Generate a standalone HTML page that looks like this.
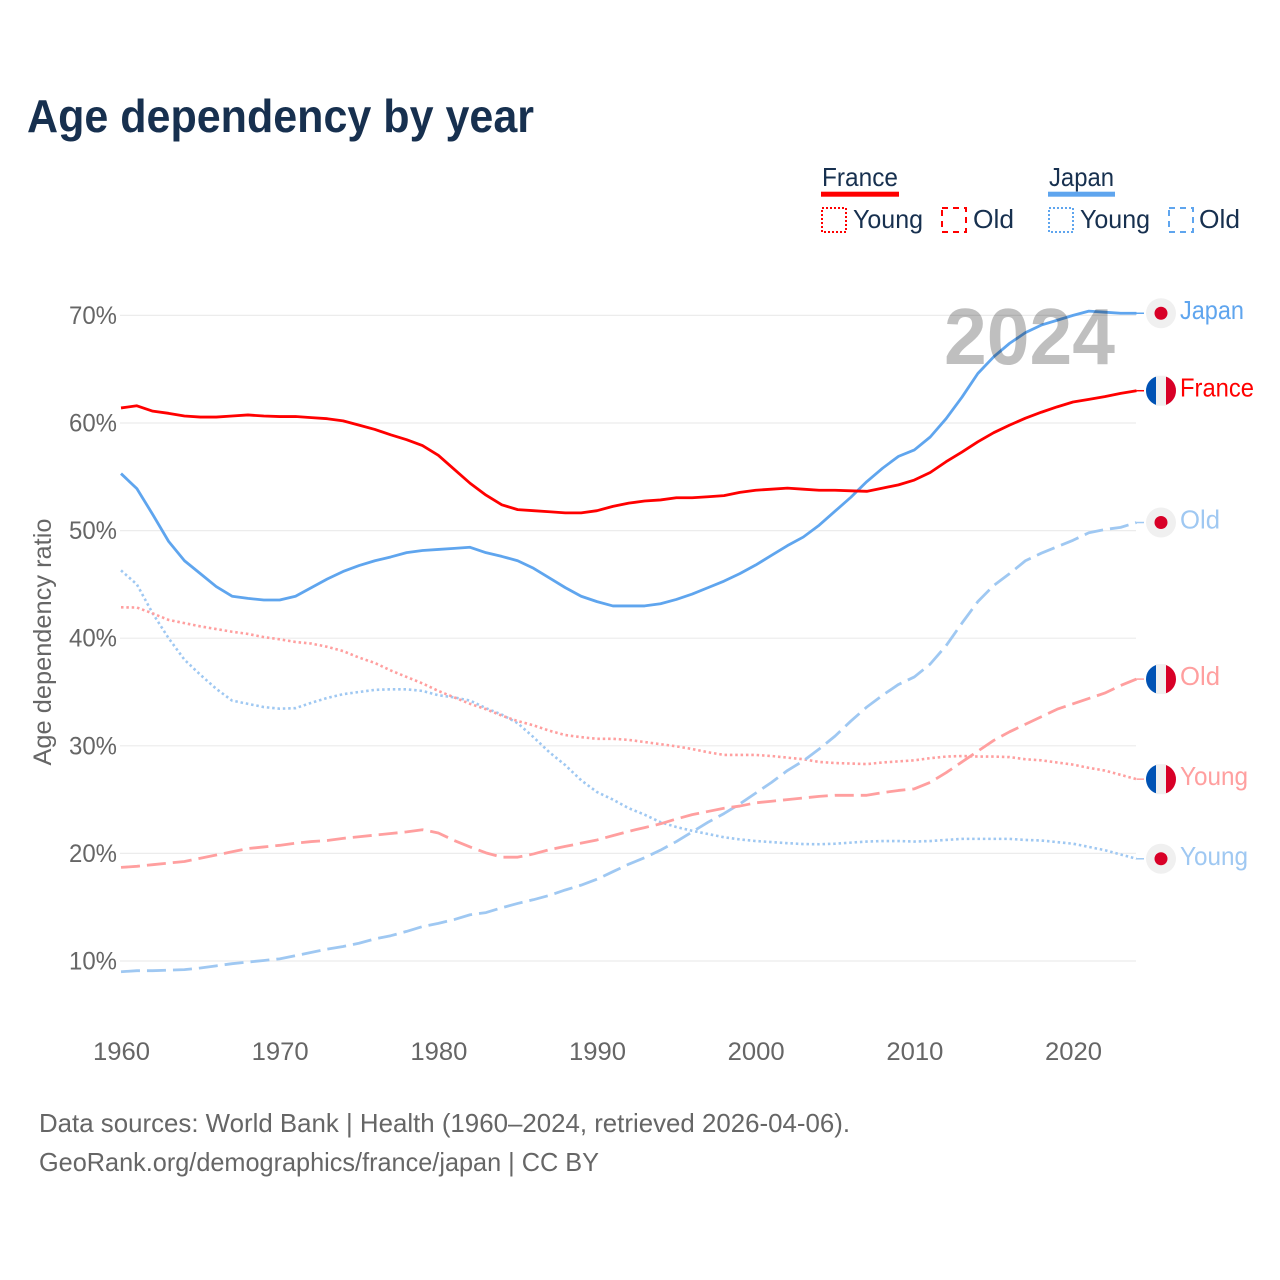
<!DOCTYPE html>
<html lang="en">
<head>
<meta charset="utf-8">
<title>Age dependency by year</title>
<style>
html,body{margin:0;padding:0;background:#fff;}
svg{display:block;font-family:"Liberation Sans",Arial,sans-serif;}
</style>
</head>
<body>
<svg id="chart" xmlns="http://www.w3.org/2000/svg" width="1280" height="1280" viewBox="0 0 1280 1280">
<rect x="0" y="0" width="1280" height="1280" fill="#fff"/>
<text x="27" y="132" font-size="46" font-weight="700" fill="#17304f" textLength="507" lengthAdjust="spacingAndGlyphs">Age dependency by year</text>

<g font-size="26" fill="#17304f">
<g>
<text x="822" y="186" textLength="76" lengthAdjust="spacingAndGlyphs">France</text>
<rect x="821" y="191.7" width="78" height="5" fill="#ff0000"/>
</g>
<g>
<rect x="822" y="208" width="24" height="24" fill="none" stroke="#ff0000" stroke-width="2" stroke-dasharray="2 2"/>
<text x="853" y="228" textLength="70" lengthAdjust="spacingAndGlyphs">Young</text>
</g>
<g>
<rect x="942" y="208" width="24" height="24" fill="none" stroke="#ff0000" stroke-width="2" stroke-dasharray="6 5"/>
<text x="973" y="228" textLength="41" lengthAdjust="spacingAndGlyphs">Old</text>
</g>
<g>
<text x="1049" y="186" textLength="65" lengthAdjust="spacingAndGlyphs">Japan</text>
<rect x="1048" y="191.7" width="67" height="5" fill="#5fa5ee"/>
</g>
<g>
<rect x="1049" y="208" width="24" height="24" fill="none" stroke="#5fa5ee" stroke-width="2" stroke-dasharray="2 2"/>
<text x="1080" y="228" textLength="70" lengthAdjust="spacingAndGlyphs">Young</text>
</g>
<g>
<rect x="1169" y="208" width="24" height="24" fill="none" stroke="#5fa5ee" stroke-width="2" stroke-dasharray="6 5"/>
<text x="1199" y="228" textLength="41" lengthAdjust="spacingAndGlyphs">Old</text>
</g>
</g>

<g id="grid"></g>
<g id="yticks"></g>
<g id="xticks"></g>
<text transform="translate(51 642) rotate(-90)" text-anchor="middle" font-size="25" fill="#666" textLength="247" lengthAdjust="spacingAndGlyphs">Age dependency ratio</text>
<g id="series"></g>
<g id="ends"></g>
<text x="944" y="364" font-size="80" font-weight="700" fill="#000" fill-opacity="0.25" textLength="171" lengthAdjust="spacingAndGlyphs">2024</text>

<text x="39" y="1132" font-size="26" fill="#666" textLength="811" lengthAdjust="spacingAndGlyphs">Data sources: World Bank | Health (1960–2024, retrieved 2026-04-06).</text>
<text x="39" y="1171" font-size="26" fill="#666" textLength="560" lengthAdjust="spacingAndGlyphs">GeoRank.org/demographics/france/japan | CC BY</text>
</svg>
<script>
var startYear = 1960;
var xTickYears = [1960, 1970, 1980, 1990, 2000, 2010, 2020];
var xTickLabels = ["1960", "1970", "1980", "1990", "2000", "2010", "2020"];
var yTickValues = [10, 20, 30, 40, 50, 60, 70];
var yTickLabels = ["10%", "20%", "30%", "40%", "50%", "60%", "70%"];

var japanTotal = [55.3,53.9,51.5,49.0,47.2,46.0,44.8,43.9,43.7,43.55,43.55,43.9,44.7,45.5,46.2,46.75,47.2,47.55,47.95,48.15,48.25,48.35,48.45,47.95,47.6,47.2,46.5,45.6,44.7,43.9,43.4,43.0,43.0,43.0,43.2,43.6,44.1,44.7,45.3,46.0,46.8,47.7,48.6,49.4,50.5,51.8,53.1,54.55,55.8,56.9,57.5,58.7,60.4,62.4,64.6,66.15,67.4,68.4,69.1,69.55,70.0,70.4,70.3,70.2,70.2];
var franceTotal = [61.4,61.6,61.1,60.9,60.65,60.55,60.55,60.65,60.75,60.65,60.6,60.6,60.5,60.4,60.2,59.8,59.4,58.9,58.45,57.9,57.0,55.7,54.4,53.3,52.4,51.95,51.85,51.75,51.65,51.65,51.85,52.25,52.55,52.75,52.85,53.05,53.05,53.15,53.25,53.55,53.75,53.85,53.95,53.85,53.75,53.75,53.7,53.65,53.95,54.25,54.7,55.4,56.4,57.3,58.25,59.1,59.8,60.45,61.0,61.5,61.95,62.2,62.45,62.75,63.0];
var japanYoung = [46.3,45.0,42.3,40.0,38.0,36.6,35.3,34.2,33.9,33.6,33.45,33.5,34.0,34.45,34.8,35.0,35.2,35.25,35.25,35.1,34.7,34.5,34.2,33.5,32.9,32.1,30.8,29.4,28.2,26.8,25.7,25.0,24.2,23.6,22.9,22.45,22.1,21.8,21.5,21.3,21.15,21.05,20.95,20.87,20.85,20.9,21.0,21.1,21.15,21.15,21.1,21.15,21.25,21.35,21.35,21.35,21.35,21.25,21.2,21.05,20.9,20.6,20.3,19.9,19.5];
var japanOld = [9.0,9.1,9.1,9.15,9.2,9.35,9.55,9.75,9.9,10.05,10.2,10.5,10.8,11.1,11.35,11.65,12.05,12.35,12.75,13.2,13.5,13.85,14.3,14.5,14.95,15.35,15.7,16.1,16.6,17.05,17.6,18.3,19.0,19.6,20.3,21.1,22.0,22.9,23.7,24.6,25.6,26.6,27.7,28.6,29.7,30.9,32.3,33.6,34.7,35.7,36.4,37.6,39.3,41.4,43.4,44.9,46.0,47.2,47.9,48.5,49.1,49.8,50.1,50.3,50.75];
var franceYoung = [42.87,42.85,42.3,41.7,41.4,41.1,40.85,40.6,40.4,40.1,39.9,39.65,39.5,39.2,38.8,38.2,37.7,37.0,36.4,35.8,35.1,34.5,33.9,33.4,32.8,32.3,31.9,31.4,31.0,30.8,30.65,30.65,30.55,30.35,30.15,29.95,29.7,29.4,29.15,29.15,29.15,29.05,28.9,28.75,28.5,28.4,28.35,28.3,28.45,28.55,28.65,28.85,29.0,29.05,29.0,29.0,28.95,28.75,28.65,28.45,28.25,27.95,27.7,27.3,26.9];
var franceOld = [18.7,18.8,18.95,19.1,19.25,19.55,19.85,20.15,20.45,20.6,20.75,20.95,21.1,21.2,21.4,21.55,21.7,21.85,22.0,22.2,21.9,21.2,20.6,20.05,19.65,19.65,19.95,20.35,20.65,20.95,21.25,21.65,22.05,22.4,22.75,23.2,23.6,23.9,24.2,24.4,24.7,24.85,25.0,25.15,25.3,25.4,25.4,25.4,25.65,25.85,26.0,26.6,27.5,28.5,29.5,30.5,31.3,32.0,32.7,33.4,33.9,34.4,34.9,35.6,36.2];

var SVGNS = "http://www.w3.org/2000/svg";
function xScale(year) { return 121 + (year - 1960) * 15.867; }
function yScale(value) { return 961 - (value - 10) * 10.76; }

function make(tag, parent, attrs) {
  var el = document.createElementNS(SVGNS, tag);
  for (var k in attrs) { el.setAttribute(k, attrs[k]); }
  parent.appendChild(el);
  return el;
}

var gridGroup = document.getElementById("grid");
var yTickGroup = document.getElementById("yticks");
var xTickGroup = document.getElementById("xticks");
var seriesGroup = document.getElementById("series");
var endGroup = document.getElementById("ends");

yTickValues.forEach(function (v, i) {
  var gy = yScale(v);
  var gl = make("line", gridGroup, { x1: 120, x2: 1136, y1: gy, y2: gy, stroke: "#ececec", "stroke-width": 1.2 });
  
  
  var yt = make("text", yTickGroup, { x: 117, y: gy + 8.5, "text-anchor": "end", "font-size": 25, fill: "#666", textLength: 48, lengthAdjust: "spacingAndGlyphs" });
  
  
  yt.textContent = yTickLabels[i];
});

xTickYears.forEach(function (yr, i) {
  var xt = make("text", xTickGroup, { x: xScale(yr) + 0.5, y: 1060, "text-anchor": "middle", "font-size": 25, fill: "#666", textLength: 57, lengthAdjust: "spacingAndGlyphs" });
  
  
  xt.textContent = xTickLabels[i];
});

function drawSeries(name, values, color, width, dash) {
  var pts = values.map(function (v, i) {
    return xScale(startYear + i).toFixed(2) + "," + yScale(v).toFixed(2);
  });
  var attrs = { points: pts.join(" "), fill: "none", stroke: color, "stroke-width": width, "stroke-linejoin": "round" };
  if (dash) { attrs["stroke-dasharray"] = dash; }
  var line = make("polyline", seriesGroup, attrs);
  
  
}

function drawEnd(name, values, color, flag, labelText, labelWidth) {
  var lastIdx = values.length - 1;
  var ey = yScale(values[lastIdx]);
  var ex = xScale(startYear + lastIdx);
  var leader = make("line", endGroup, { x1: ex, x2: 1144, y1: ey, y2: ey, stroke: color, "stroke-width": 1.5 });
  
  
  var g = make("g", endGroup, {});
  
  
  var cx = 1161;
  if (flag === "france") {
    make("path", g, { d: "M" + (cx - 5) + " " + (ey - 14.14) + "A15 15 0 0 0 " + (cx - 5) + " " + (ey + 14.14) + "Z", fill: "#0052b4" });
    make("rect", g, { x: cx - 5, y: ey - 15, width: 10, height: 30, fill: "#f0f0f0" });
    make("path", g, { d: "M" + (cx + 5) + " " + (ey - 14.14) + "A15 15 0 0 1 " + (cx + 5) + " " + (ey + 14.14) + "Z", fill: "#d80027" });
  } else {
    make("circle", g, { cx: cx, cy: ey, r: 15, fill: "#f0f0f0" });
    make("circle", g, { cx: cx, cy: ey, r: 6.5, fill: "#d80027" });
  }
  var t = make("text", endGroup, { x: 1180, y: ey + 6, "font-size": 26, fill: color, textLength: labelWidth, lengthAdjust: "spacingAndGlyphs" });
  
  
  t.textContent = labelText;
}

var colRed = "#ff0000", colBlue = "#5fa5ee", colPink = "#ff9f9f", colSky = "#9fc8f2";

drawSeries("japan-young", japanYoung, colSky, 2.6, "2.5 2.85");
drawSeries("france-young", franceYoung, colPink, 2.6, "2.5 2.85");
drawSeries("japan-old", japanOld, colSky, 2.8, "19 7");
drawSeries("france-old", franceOld, colPink, 2.8, "19 7");
drawSeries("japan-total", japanTotal, colBlue, 2.8, "");
drawSeries("france-total", franceTotal, colRed, 2.8, "");

drawEnd("japan-total", japanTotal, colBlue, "japan", "Japan", 64);
drawEnd("france-total", franceTotal, colRed, "france", "France", 74);
drawEnd("japan-old", japanOld, colSky, "japan", "Old", 40);
drawEnd("france-old", franceOld, colPink, "france", "Old", 40);
drawEnd("france-young", franceYoung, colPink, "france", "Young", 68);
drawEnd("japan-young", japanYoung, colSky, "japan", "Young", 68);
</script>
</body>
</html>
